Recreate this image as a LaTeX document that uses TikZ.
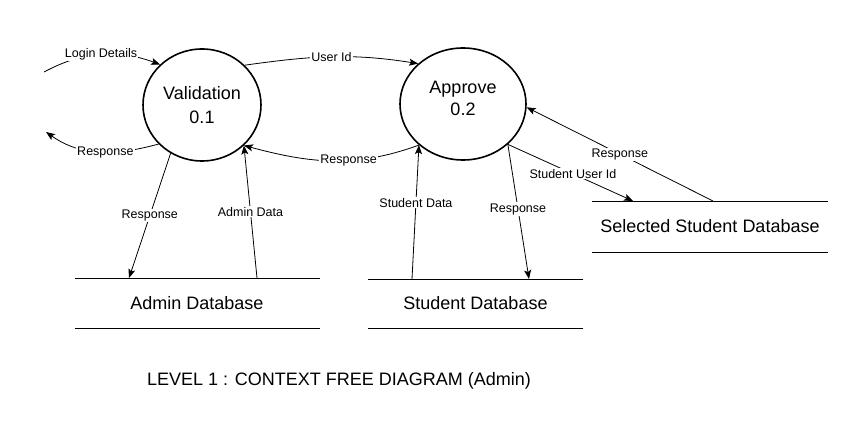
\documentclass[tikz,border=0pt]{standalone}
\usepackage{fontspec}
\setmainfont{Liberation Sans}
\usetikzlibrary{positioning}
\usetikzlibrary{arrows,arrows.meta,shapes}
\usetikzlibrary{calc}
\tikzstyle{process}=[ellipse,draw,line width=1.6pt,inner sep=0pt,minimum height=112pt,align=center,font=\fontsize{18}{24}\selectfont]
\tikzstyle{store}=[rectangle,inner sep=0pt,outer sep=0pt,font=\fontsize{18}{20}\selectfont]
\tikzstyle{flow} = [draw,line width=0.8pt,->]
\tikzstyle{weight} = [font=\fontsize{12.5}{14}\selectfont,fill=white,inner sep=1pt]

\begin{document}
\begin{tikzpicture}[x=1pt,y=1pt,>={Stealth[length=9pt,width=7pt,inset=2pt]}]

  \useasboundingbox (0,0) rectangle (855,-427);

  \node[process,minimum width=118pt] (val) at (202,-105) {Validation\\0.1};
  \node[process,minimum width=126pt,text depth=12pt] (app) at (463,-104) {Approve\\[-2pt]0.2};

  \foreach \x/\y/\w/\h/\name/\label in {197/-303/245/50/admin/Admin Database,
      475.5/-303.5/215/49/student/Student Database,
      710/-226.5/236/51/selected/Selected Student Database}
    \node[store,minimum width=\w pt,minimum height=\h pt] (\name) at (\x,\y) {\label};

  \foreach \name in {admin,student,selected}
    \draw[line width=0.9pt] (\name.north west) -- (\name.north east)
                            (\name.south west) -- (\name.south east);

  \coordinate (login) at (44,-72);
  \coordinate (reply) at (46,-132);
  \coordinate (adminin) at ($(admin.north west)+(54.5,0)$);
  \coordinate (adminout) at ($(admin.north west)+(182.5,0)$);
  \coordinate (studentout) at ($(student.north west)+(44,0)$);
  \coordinate (studentin) at ($(student.north west)+(161,0)$);
  \coordinate (selectedin) at ($(selected.north west)+(41,0)$);
  \coordinate (selectedout) at ($(selected.north west)+(121,0)$);

  \draw[flow] (login) to[out=28,in=160] node[weight] {Login Details} (val.136);
  \draw[flow] (val.222) to[out=195,in=-35] node[weight,pos=0.45] {Response} (reply);
  \draw[flow] (val.43) to[out=8,in=171] node[weight] {User Id} (app.138);
  \draw[flow] (app.223) to[out=200,in=-15] node[weight,pos=0.4] {Response} (val.316);

  \foreach \source/\dest/\where/\weight in {val.237/adminin/0.5/Response,
      adminout/val.316/0.5/Admin Data,
      studentout/app.223/0.57/Student Data,
      app.318/studentin/0.48/Response,
      app.318/selectedin/0.52/Student User Id,
      selectedout/app.-3/0.5/Response}
    \draw[flow] (\source) -- node[weight,pos=\where] {\weight} (\dest);

  \node[font=\fontsize{18}{20}\selectfont] (title) at (339,-381) {LEVEL 1 : CONTEXT FREE DIAGRAM (Admin)};

\end{tikzpicture}
\end{document}
